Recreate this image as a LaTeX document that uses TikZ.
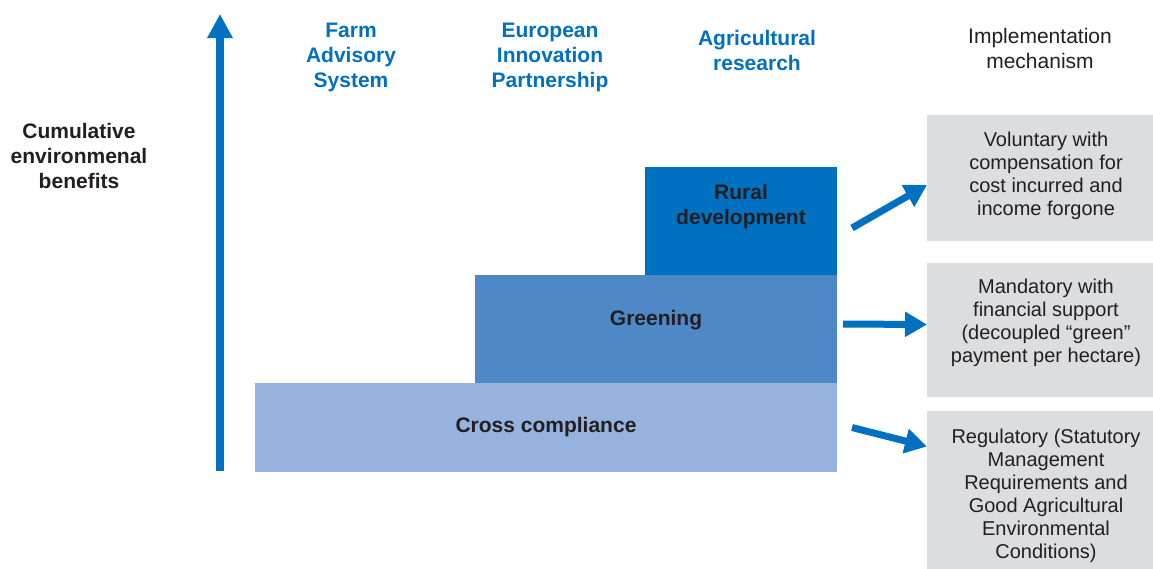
\documentclass[tikz,border=0pt]{standalone}
\usepackage{fontspec}
\setmainfont{Liberation Sans}
\usetikzlibrary{positioning,arrows.meta}
\definecolor{eublue}{RGB}{0,112,192}
\definecolor{greenblue}{RGB}{79,136,198}
\definecolor{crossblue}{RGB}{149,179,222}
\definecolor{boxgray}{RGB}{220,221,222}
\definecolor{inkdark}{RGB}{35,31,32}

\begin{document}
\begin{tikzpicture}[x=1pt, y=-1pt,
  head/.style={align=center, font=\fontsize{21}{25}\selectfont\bfseries, text=eublue, inner sep=0},
  axislbl/.style={align=center, font=\fontsize{21}{25}\selectfont\bfseries, text=inkdark, inner sep=0},
  bar/.style={inner sep=0, outer sep=0, anchor=south east},
  barlbl/.style={align=center, font=\fontsize{21}{25}\selectfont\bfseries, text=inkdark, inner sep=0},
  mech/.style={fill=boxgray, inner sep=0, outer sep=0, anchor=north west, minimum width=238},
  mechlbl/.style={align=center, font=\fontsize{20}{23}\selectfont, text=inkdark, inner sep=0},
  axisarr/.style={-{Triangle[length=24pt,width=24pt]}, line width=8pt, draw=eublue},
  bigarrow/.style={-{Triangle[length=22pt,width=24pt]}, line width=7pt, draw=eublue}
]
  \useasboundingbox (0,0) rectangle (1153,568);
  \clip (0,0) rectangle (1153,568);

  % axis
  \coordinate (axisbot) at (220,471);
  \coordinate (axistop) at (220,14);
  \draw[axisarr] (axisbot) -- (axistop);
  \node[axislbl] (benefits) at (79,156) {Cumulative\\environmenal\\benefits};

  % column heads
  \node[head] (fas) at (351,57) {Farm\\Advisory\\System};
  \node[head] (eip) at (550,57) {European\\Innovation\\Partnership};
  \node[head] (res) at (757,50) {Agricultural\\research};
  \node[head, text=inkdark, font=\fontsize{21}{25}\selectfont] (impl) at (1040,48) {Implementation\\mechanism};

  % steps
  \node[bar, fill=crossblue, anchor=south west, minimum width=582, minimum height=89,
    label={[barlbl, yshift=0.5pt]center:Cross compliance}] (cross) at (255,472) {};
  \node[bar, fill=greenblue, minimum width=362, minimum height=108,
    label={[barlbl, yshift=8.5pt]center:Greening}] (green) at (cross.north east) {};
  \node[bar, fill=eublue, minimum width=192, minimum height=108,
    label={[barlbl, yshift=14.5pt]center:Rural\\development}] (rural) at (green.north east) {};

  % mechanisms
  \node[mech, minimum height=126,
    label={[mechlbl, yshift=2.5pt]center:Voluntary with\\compensation for\\cost incurred and\\income forgone}] (vol) at (927,115) {};
  \node[mech, minimum height=134,
    label={[mechlbl, yshift=7pt]center:Mandatory with\\financial support\\(decoupled “green”\\payment per hectare)}] (mand) at (927,263) {};
  \node[mech, minimum height=160,
    label={[mechlbl, yshift=-4.5pt]center:Regulatory (Statutory\\Management\\Requirements and\\Good Agricultural\\Environmental\\Conditions)}] (reg) at (927,411) {};

  \draw[bigarrow] ([shift={(15pt,-7pt)}]rural.east) -- ([yshift=-7pt]vol.west);
  \draw[bigarrow] ([shift={(6pt,5pt)}]green.east) -- ([yshift=5.5pt]mand.west);
  \draw[bigarrow] ([xshift=15pt]cross.east) -- ([yshift=44.5pt]reg.west);
\end{tikzpicture}
\end{document}
